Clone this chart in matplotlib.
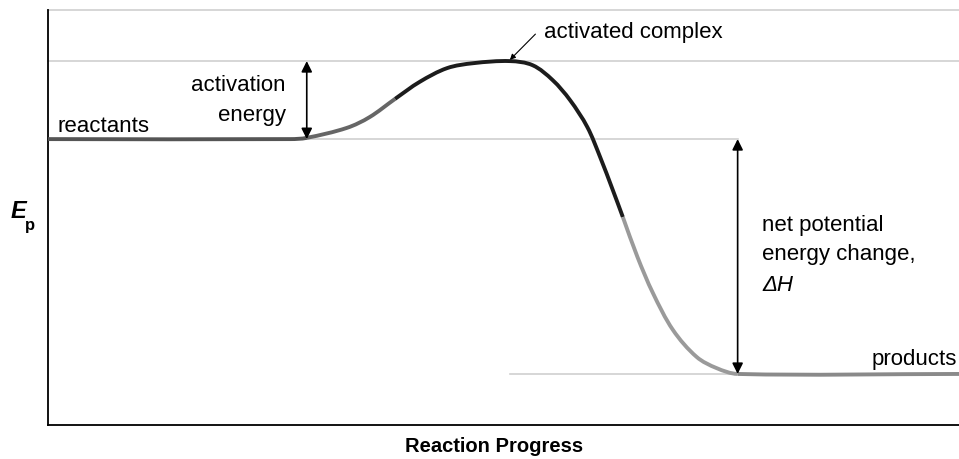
import numpy as np
import matplotlib.pyplot as plt
from matplotlib.path import Path
from matplotlib.patches import PathPatch

plt.rcParams['font.family'] = ['Liberation Sans', 'DejaVu Sans']

# potential energy curve (progress 0-100, energy 0-100)
progress = np.array([0, 26.6, 28.4, 32.8, 35.3, 38.1, 40.8, 43.8, 46.7, 50.7,
                     53.2, 55.4, 57.3, 59.2, 60.6, 62.0, 63.1, 64.7, 66.4,
                     68.6, 71.2, 73.4, 75.7, 100])
energy = np.array([68.9, 68.9, 69.2, 71.6, 74.2, 78.6, 82.7, 86.0, 87.2, 87.7,
                   86.7, 83.1, 78.3, 71.8, 64.6, 56.6, 50.1, 40.5, 31.8,
                   22.9, 16.4, 13.7, 12.3, 12.3])

# shading of the curve pieces (start/end index into the points above)
seg_idx = [(0, 2), (2, 5), (5, 16), (16, 22), (22, 23)]
seg_colors = ['#555555', '#666666', '#1c1c1c', '#9a9a9a', '#8a8a8a']

reactant_level = 68.9
peak_x, peak_level = 50.7, 87.7
product_x, product_level = 75.7, 12.3
ea_x = 28.4


def smooth_piece(i0, i1, sx=9.11, sy=4.15):
    # cubic bezier through the read points (drawing only, no new data)
    P = np.column_stack([progress * sx, energy * sy])
    n = len(P)
    verts = [P[i0]]
    codes = [Path.MOVETO]
    for k in range(i0, i1):
        p0 = P[max(k - 1, 0)]
        p1, p2 = P[k], P[k + 1]
        p3 = P[min(k + 2, n - 1)]
        L = np.linalg.norm(p2 - p1) / 3
        d1 = (p2 - p0) / np.linalg.norm(p2 - p0)
        d2 = (p3 - p1) / np.linalg.norm(p3 - p1)
        verts += [p1 + d1 * L, p2 - d2 * L, p2]
        codes += [Path.CURVE4] * 3
    verts = np.array(verts) / [sx, sy]
    return Path(verts, codes)


fig = plt.figure(figsize=(9.59, 4.59), dpi=100)
ax = fig.add_axes([0.0501, 0.0741, 0.9499, 0.904])
ax.set_xlim(0, 100)
ax.set_ylim(0, 100)

# light reference lines
grid_kw = dict(color='#d0d0d0', lw=1.2, zorder=1, clip_on=False)
ax.plot([0, 100], [100, 100], **grid_kw)
ax.plot([0, 100], [peak_level, peak_level], **grid_kw)
ax.plot([0, product_x], [reactant_level, reactant_level], **grid_kw)
ax.plot([peak_x, 100], [product_level, product_level], **grid_kw)

for (i0, i1), c in zip(seg_idx, seg_colors):
    ax.add_patch(PathPatch(smooth_piece(i0, i1), fill=False, edgecolor=c,
                           lw=2.8, capstyle='butt', zorder=3, clip_on=False))

# double arrows
arr = dict(arrowstyle='<|-|>', color='black', lw=1.2, mutation_scale=16,
           shrinkA=0, shrinkB=0)
ax.annotate('', xy=(ea_x, peak_level), xytext=(ea_x, reactant_level),
            arrowprops=arr, zorder=4)
ax.annotate('', xy=(product_x, reactant_level), xytext=(product_x, product_level),
            arrowprops=arr, zorder=4)

fs = 16
ax.annotate('', xy=(peak_x, peak_level + 0.3), xytext=(53.5, 94.2),
            arrowprops=dict(arrowstyle='-|>', color='black', lw=0.8,
                            mutation_scale=8, shrinkA=0, shrinkB=0))
ax.text(54.4, 94.5, 'activated complex', fontsize=fs, va='center', ha='left')
ax.text(26.1, 78.2, 'activation\nenergy', fontsize=fs, ha='right', va='center',
        linespacing=1.55)
ax.text(1.0, 72.0, 'reactants', fontsize=fs, ha='left', va='center')
ax.text(99.8, 15.8, 'products', fontsize=fs, ha='right', va='center')
ax.text(78.4, 44.6, 'net potential\nenergy change,', fontsize=fs, ha='left',
        va='center', linespacing=1.45)
ax.text(78.4, 33.6, 'ΔH', fontsize=fs, ha='left', va='center', style='italic')

ax.set_xticks([])
ax.set_yticks([])
for s in ['top', 'right']:
    ax.spines[s].set_visible(False)
for s in ['left', 'bottom']:
    ax.spines[s].set_linewidth(1.3)

fig.text(18 / 959, 1 - 212 / 459, 'E', fontsize=17, ha='center', va='center',
         fontweight='bold', style='italic')
fig.text(30 / 959, 1 - 225 / 459, 'p', fontsize=12, ha='center',
         va='center', fontweight='bold')
fig.text(494 / 959, 1 - 447 / 459, 'Reaction Progress', fontsize=14.5,
         ha='center', va='center', fontweight='bold')

plt.savefig('out.png', dpi=100)
